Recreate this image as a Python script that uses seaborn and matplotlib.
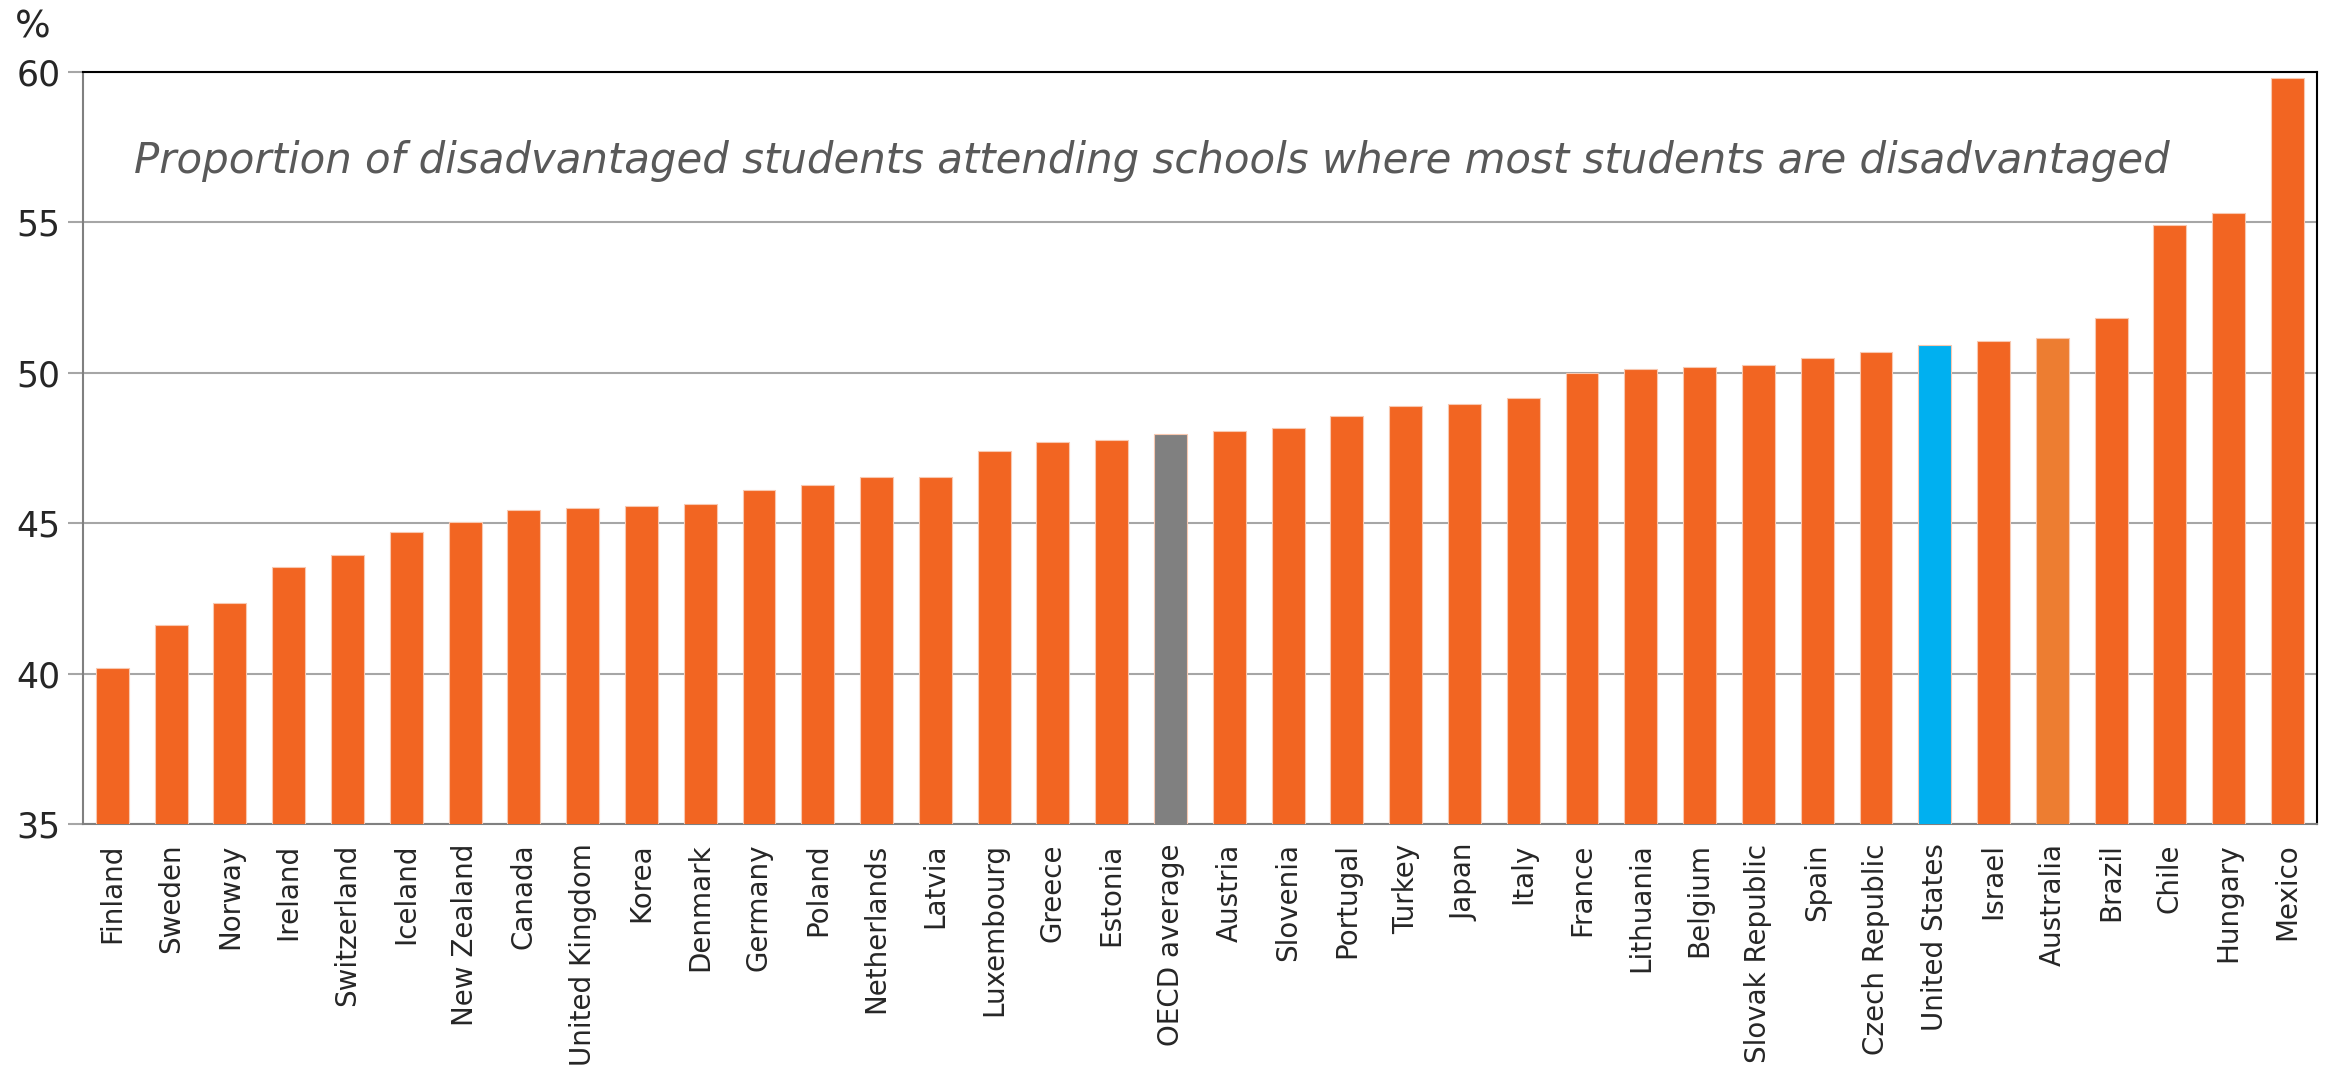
import pandas as pd
import seaborn as sns
import matplotlib.pyplot as plt
import matplotlib.transforms as mtransforms

countries = ['Finland', 'Sweden', 'Norway', 'Ireland', 'Switzerland', 'Iceland',
             'New Zealand', 'Canada', 'United Kingdom', 'Korea', 'Denmark',
             'Germany', 'Poland', 'Netherlands', 'Latvia', 'Luxembourg', 'Greece',
             'Estonia', 'OECD average', 'Austria', 'Slovenia', 'Portugal', 'Turkey',
             'Japan', 'Italy', 'France', 'Lithuania', 'Belgium', 'Slovak Republic',
             'Spain', 'Czech Republic', 'United States', 'Israel', 'Australia',
             'Brazil', 'Chile', 'Hungary', 'Mexico']
values = [40.2, 41.6, 42.35, 43.55, 43.95, 44.72, 45.05, 45.43, 45.5, 45.57,
          45.64, 46.12, 46.28, 46.52, 46.55, 47.4, 47.7, 47.75, 47.97, 48.07,
          48.15, 48.55, 48.9, 48.95, 49.15, 49.98, 50.12, 50.18, 50.25, 50.5,
          50.68, 50.93, 51.05, 51.15, 51.82, 54.92, 55.3, 59.8]

ORANGE = '#F26522'
special = {'OECD average': '#808080', 'United States': '#00B0F0', 'Australia': '#ED7D31'}
palette = {c: special.get(c, ORANGE) for c in countries}

df = pd.DataFrame({'country': countries, 'value': values})

sns.set_style('white')
plt.rcParams['font.family'] = ['DejaVu Sans']

fig = plt.figure(figsize=(23.29, 10.70), dpi=100)
ax = fig.add_axes([0.0356, 0.2299, 0.9592, 0.7028])

sns.barplot(data=df, x='country', y='value', hue='country', palette=palette,
            legend=False, width=0.56, saturation=1, ax=ax, zorder=3,
            edgecolor='#F8C8B0', linewidth=0.8)

ax.set_ylim(35, 60)
ax.set_xlim(-0.5, len(countries) - 0.5)
ax.set_yticks([35, 40, 45, 50, 55, 60])
ax.yaxis.grid(True, color='#A6A6A6', linewidth=1.5, zorder=0)
ax.set_axisbelow(True)

# ticks between categories, Excel style
ax.set_xticks([i - 0.5 for i in range(len(countries) + 1)], minor=True)
ax.tick_params(axis='x', which='minor', length=10, width=1.5, color='#A6A6A6')
ax.tick_params(axis='x', which='major', length=0, labelsize=20, pad=14,
               labelrotation=90)
ax.tick_params(axis='y', length=11, width=1.5, color='#A6A6A6', labelsize=25,
               pad=5, left=True)

for side in ['left', 'bottom']:
    ax.spines[side].set_color('#808080')
    ax.spines[side].set_linewidth(1.5)
for side in ['top', 'right']:
    ax.spines[side].set_color('black')
    ax.spines[side].set_linewidth(1.5)

ax.set_xlabel('')
ax.set_ylabel('')

trans = mtransforms.blended_transform_factory(ax.transAxes, ax.transData)
ax.text(0.0228, 56.64,
        'Proportion of disadvantaged students attending schools where most students are disadvantaged',
        transform=trans, fontsize=30.2, style='italic', color='#595959',
        va='baseline', ha='left')

fig.text(15 / 2329, 1 - 37 / 1070, '%', fontsize=27, va='baseline', ha='left')

fig.savefig('out.png', dpi=100)
